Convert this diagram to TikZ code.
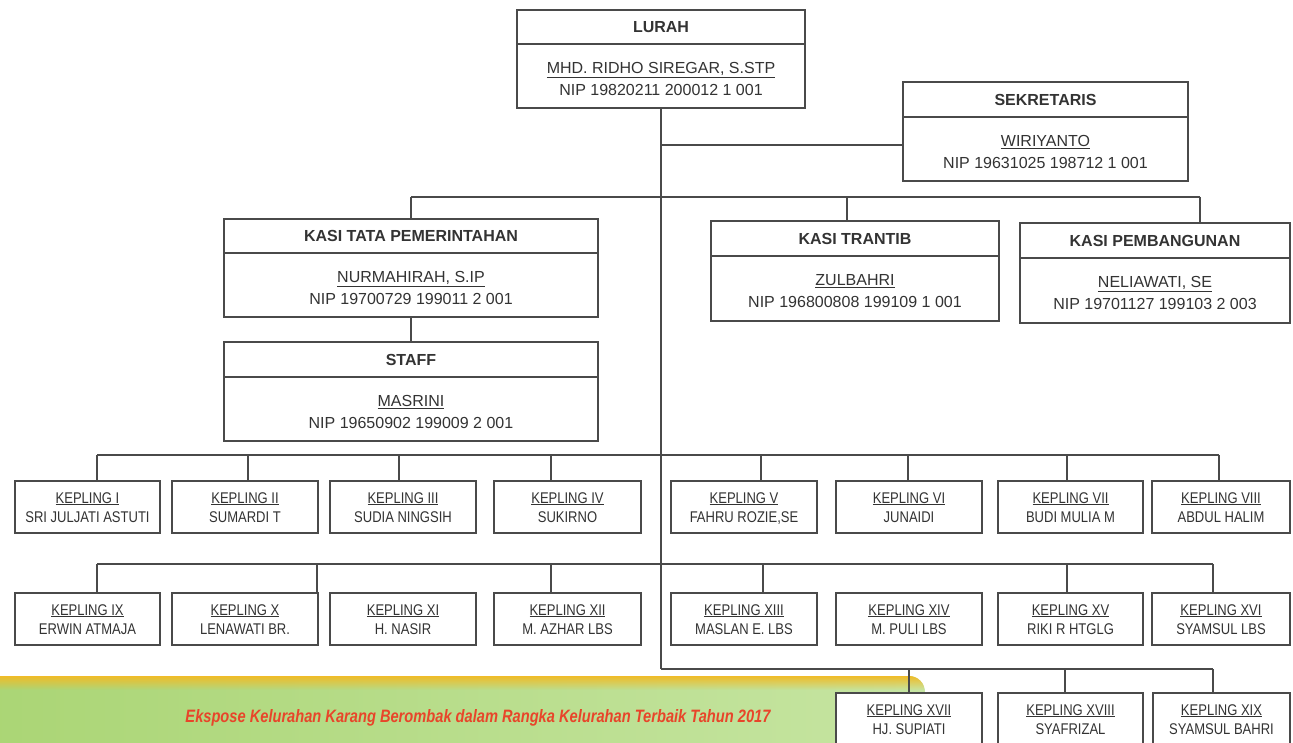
\documentclass[tikz,border=0pt]{standalone}
\usepackage{fontspec}
\setmainfont{Liberation Sans}
\newfontfamily\narrowfont[FakeStretch=0.84]{Liberation Sans}
\usepackage{graphicx}
\usetikzlibrary{fadings}
\definecolor{ln}{HTML}{4A4A4A}
\definecolor{tx}{HTML}{333333}
\definecolor{bgreenL}{HTML}{AAD574}
\definecolor{bgreenR}{HTML}{C6E5A2}
\definecolor{byel}{HTML}{F0BC28}
\definecolor{btxt}{HTML}{E8452A}
\tikzfading[name=fadedown, top color=transparent!0, bottom color=transparent!100]
\newcommand\bigbox[9]{%
  \pgfmathsetmacro\bw{#4-#2}%
  \pgfmathsetmacro\bh{#5-#3}%
  \pgfmathsetmacro\bcx{(#2+#4)/2}%
  \pgfmathsetmacro\bcy{(#3+#5)/2}%
  \pgfmathsetmacro\bty{(#3+#6)/2+5.7}%
  \node[bigbox, minimum width=\bw pt, minimum height=\bh pt] (#1) at (\bcx,\bcy) {};
  \draw[edge] (#2,#6) -- (#4,#6);
  \node[ttl, anchor=base] (#1-title) at (\bcx,\bty) {#7};
  \node[nm, anchor=base] (#1-name) at (\bcx,{#6+24+5.7}) {\underline{#8}};
  \node[nm, anchor=base] (#1-nip) at (\bcx,{#6+46+5.7}) {#9};
}
\newcommand\kep[7]{%
  \pgfmathsetmacro\bw{#4-#2}%
  \pgfmathsetmacro\bh{#5-#3}%
  \pgfmathsetmacro\bcx{(#2+#4)/2}%
  \pgfmathsetmacro\bcy{(#3+#5)/2}%
  \node[kbox, minimum width=\bw pt, minimum height=\bh pt] (#1) at (\bcx,\bcy) {};
  \node[kt, anchor=base] (#1-a) at (\bcx,{\bcy-9.5+5.5}) {\underline{#6}};
  \node[kt, anchor=base] (#1-b) at (\bcx,{\bcy+9.5+5.5}) {#7};
}
\begin{document}
\begin{tikzpicture}[x=1pt, y=-1pt,
  edge/.style={draw=ln, line width=1.2pt},
  bigbox/.style={draw=ln, line width=1.3pt, fill=white, inner sep=0pt},
  kbox/.style={draw=ln, line width=1.3pt, fill=white, inner sep=0pt},
  ttl/.style={text=tx, font=\fontsize{16}{18}\selectfont\bfseries, inner sep=0pt},
  nm/.style={text=tx, font=\fontsize{16}{18}\selectfont, inner sep=0pt},
  kt/.style={text=tx, font=\narrowfont\fontsize{15.5}{17}\selectfont, inner sep=0pt}]
\useasboundingbox (0,0) rectangle (1293,743);
\clip (0,0) rectangle (1293,743);
\fill[white] (0,0) rectangle (1293,743);
% banner
\begin{scope}
  \clip[rounded corners=16pt] (-30,676) rectangle (925,790);
  \shade[left color=bgreenL, right color=bgreenR] (-30,676) rectangle (925,790);
  \fill[byel, path fading=fadedown] (-30,676) rectangle (925,690);
\end{scope}
\node[text=btxt, inner sep=0pt] (bantext) at (478,718) {\resizebox{585pt}{13pt}{\bfseries\itshape Ekspose Kelurahan Karang Berombak dalam Rangka Kelurahan Terbaik Tahun 2017}};
% big boxes
\bigbox{lurah}{517}{10}{805}{108}{44}{LURAH}{MHD. RIDHO SIREGAR, S.STP}{NIP 19820211 200012 1 001}
\bigbox{sek}{903}{82}{1188}{181}{117}{SEKRETARIS}{WIRIYANTO}{NIP 19631025 198712 1 001}
\bigbox{tata}{224}{219}{598}{317}{253}{KASI TATA PEMERINTAHAN}{NURMAHIRAH, S.IP}{NIP 19700729 199011 2 001}
\bigbox{trantib}{711}{221}{999}{321}{256}{KASI TRANTIB}{ZULBAHRI}{NIP 196800808 199109 1 001}
\bigbox{pemb}{1020}{223}{1290}{323}{258}{KASI PEMBANGUNAN}{NELIAWATI, SE}{NIP 19701127 199103 2 003}
\bigbox{staff}{224}{342}{598}{441}{377}{STAFF}{MASRINI}{NIP 19650902 199009 2 001}
% kepling row 1
\kep{k1}{15}{481}{160}{533}{KEPLING I}{SRI JULJATI ASTUTI}
\kep{k2}{172}{481}{318}{533}{KEPLING II}{SUMARDI T}
\kep{k3}{330}{481}{476}{533}{KEPLING III}{SUDIA NINGSIH}
\kep{k4}{494}{481}{641}{533}{KEPLING IV}{SUKIRNO}
\kep{k5}{671}{481}{817}{533}{KEPLING V}{FAHRU ROZIE,SE}
\kep{k6}{836}{481}{982}{533}{KEPLING VI}{JUNAIDI}
\kep{k7}{998}{481}{1143}{533}{KEPLING VII}{BUDI MULIA M}
\kep{k8}{1152}{481}{1290}{533}{KEPLING VIII}{ABDUL HALIM}
% kepling row 2
\kep{k9}{15}{593}{160}{645}{KEPLING IX}{ERWIN ATMAJA}
\kep{k10}{172}{593}{318}{645}{KEPLING X}{LENAWATI BR.}
\kep{k11}{330}{593}{476}{645}{KEPLING XI}{H. NASIR}
\kep{k12}{494}{593}{641}{645}{KEPLING XII}{M. AZHAR LBS}
\kep{k13}{671}{593}{817}{645}{KEPLING XIII}{MASLAN E. LBS}
\kep{k14}{836}{593}{982}{645}{KEPLING XIV}{M. PULI LBS}
\kep{k15}{998}{593}{1143}{645}{KEPLING XV}{RIKI R HTGLG}
\kep{k16}{1152}{593}{1290}{645}{KEPLING XVI}{SYAMSUL LBS}
% kepling row 3
\kep{k17}{836}{693}{982}{745}{KEPLING XVII}{HJ. SUPIATI}
\kep{k18}{998}{693}{1143}{745}{KEPLING XVIII}{SYAFRIZAL}
\kep{k19}{1153}{693}{1290}{745}{KEPLING XIX}{SYAMSUL BAHRI}
% connectors
\coordinate (trunkB) at (661,669);
\draw[edge] (lurah.south) -- (trunkB);
\coordinate (sekJ) at (661,145);
\draw[edge] (sekJ) -- (sekJ -| sek.west);
\coordinate (kasiL) at (411,197);
\coordinate (kasiM) at (847,197);
\coordinate (kasiR) at (1200,197);
\draw[edge] (kasiL) -- (kasiR);
\draw[edge] (kasiL) -- (kasiL |- tata.north);
\draw[edge] (kasiM) -- (kasiM |- trantib.north);
\draw[edge] (kasiR) -- (kasiR |- pemb.north);
\draw[edge] (tata.south) -- (staff.north);
% row 1 bus
\coordinate (r1L) at (97,455);
\coordinate (r1R) at (1219,455);
\draw[edge] (r1L) -- (r1R);
\foreach \xx/\kk in {97/k1,248/k2,399/k3,551/k4,761/k5,908/k6,1067/k7,1219/k8}{
  \coordinate (tap) at (\xx,455);
  \draw[edge] (tap) -- (tap |- \kk.north);
}
% row 2 bus
\coordinate (r2L) at (97,564);
\coordinate (r2R) at (1213,564);
\draw[edge] (r2L) -- (r2R);
\foreach \xx/\kk in {97/k9,317/k10,551/k12,763/k13,1067/k15,1213/k16}{
  \coordinate (tap) at (\xx,564);
  \draw[edge] (tap) -- (tap |- \kk.north);
}
% row 3 bus
\coordinate (r3R) at (1213,669);
\draw[edge] (trunkB) -- (r3R);
\foreach \xx/\kk in {909/k17,1065/k18,1213/k19}{
  \coordinate (tap) at (\xx,669);
  \draw[edge] (tap) -- (tap |- \kk.north);
}
\end{tikzpicture}
\end{document}
